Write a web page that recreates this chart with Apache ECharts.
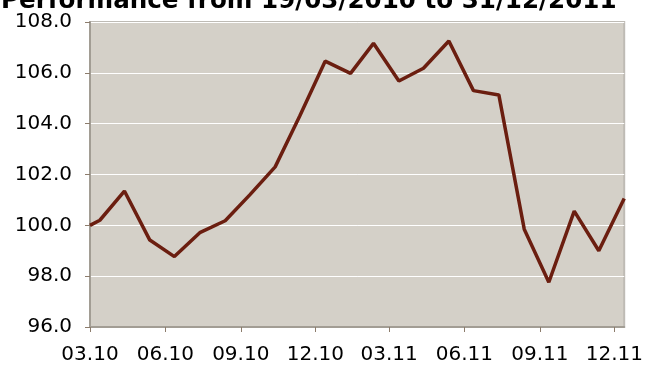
<!DOCTYPE html>
<html>
<head>
<meta charset="utf-8">
<script src="https://cdn.jsdelivr.net/npm/echarts@6/dist/echarts.min.js"></script>
<style>
  html, body { margin: 0; padding: 0; background: #ffffff; }
  #chart { width: 646px; height: 367px; }
</style>
</head>
<body>
<div id="chart"></div>
<script>
// Month-end performance index, rebased to 100 at the start date
const dates = [
  '2010-03-19', '2010-03-31', '2010-04-30', '2010-05-31', '2010-06-30',
  '2010-07-31', '2010-08-31', '2010-09-30', '2010-10-31', '2010-11-30',
  '2010-12-31', '2011-01-31', '2011-02-28', '2011-03-31', '2011-04-30',
  '2011-05-31', '2011-06-30', '2011-07-31', '2011-08-31', '2011-09-30',
  '2011-10-31', '2011-11-30', '2011-12-31'
];
const values = [
  100.0, 100.2, 101.35, 99.42, 98.77,
  99.71, 100.18, 101.2, 102.3, 104.3,
  106.46, 105.98, 107.16, 105.68, 106.18,
  107.25, 105.3, 105.13, 99.85, 97.76,
  100.56, 99.0, 101.06
];
// Quarterly ticks on the 19th, labelled MM.YY
const tickDates = [
  '2010-03-19', '2010-06-19', '2010-09-19', '2010-12-19',
  '2011-03-19', '2011-06-19', '2011-09-19', '2011-12-19'
];
const tickLabels = ['03.10', '06.10', '09.10', '12.10', '03.11', '06.11', '09.11', '12.11'];
const titleText = 'Performance from 19/03/2010 to 31/12/2011';

// The x axis counts days from the first date
const DAY = 86400000;
function toDay(s) {
  const p = s.split('-').map(Number);
  return Date.UTC(p[0], p[1] - 1, p[2]) / DAY;
}
const day0 = toDay(dates[0]);
const tickDays = tickDates.map(d => toDay(d) - day0);
const seriesData = dates.map((d, i) => [toDay(d) - day0, values[i]]);

const font = 'DejaVu Sans, Verdana, sans-serif';
const chart = echarts.init(document.getElementById('chart'), null, { renderer: 'canvas' });
chart.setOption({
  animation: false,
  backgroundColor: '#ffffff',
  title: {
    text: titleText,
    left: -4,
    top: -16,
    textStyle: { fontFamily: font, fontSize: 24.6, fontWeight: 'bold', color: '#000000' }
  },
  grid: {
    left: 90, right: 20, top: 22, bottom: 40,
    show: true,
    backgroundColor: '#d4d0c8',
    borderColor: '#bebbb5',
    borderWidth: 2
  },
  xAxis: {
    type: 'value',
    min: 0,
    max: toDay(dates[dates.length - 1]) - day0,
    splitLine: { show: false },
    axisLine: { show: true, lineStyle: { color: '#a29d94', width: 2 } },
    axisTick: { show: true, customValues: tickDays, length: 5, lineStyle: { color: '#8c7c6c', width: 1 } },
    axisLabel: {
      customValues: tickDays,
      margin: 18,
      fontFamily: font,
      fontSize: 20,
      color: '#000000',
      hideOverlap: false,
      formatter: function (v) {
        const i = tickDays.indexOf(v);
        return i >= 0 ? tickLabels[i] : '';
      }
    }
  },
  yAxis: {
    type: 'value',
    min: 96,
    max: 108,
    interval: 2,
    axisLine: { show: true, lineStyle: { color: '#a29d94', width: 2 } },
    axisTick: { show: true, length: 5, lineStyle: { color: '#8c7c6c', width: 1 } },
    splitLine: { show: true, lineStyle: { color: '#ffffff', width: 1 } },
    axisLabel: {
      margin: 18,
      fontFamily: font,
      fontSize: 20,
      color: '#000000',
      formatter: v => v.toFixed(1)
    }
  },
  series: [{
    type: 'line',
    data: seriesData,
    showSymbol: false,
    lineStyle: { color: '#6b1e10', width: 3.5 },
    z: 5
  }]
});
</script>
</body>
</html>
